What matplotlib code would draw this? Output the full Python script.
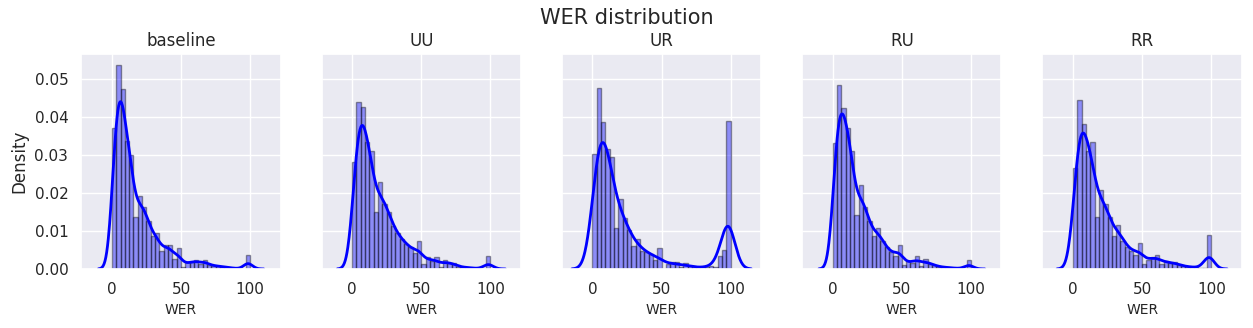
import numpy as np
import matplotlib
matplotlib.use('Agg')
import matplotlib.pyplot as plt
import seaborn as sns

# histogram densities per 3.125-wide WER bin (0..100)
models = ['baseline', 'UU', 'UR', 'RU', 'RR']

baseline = [0.0371, 0.0537, 0.0473, 0.0337, 0.0301, 0.0136, 0.0193, 0.0162,
            0.0127, 0.0086, 0.0095, 0.0046, 0.0062, 0.0062, 0.0027, 0.0054,
            0.0004, 0.0018, 0.0018, 0.0024, 0.0013, 0.0024, 0.0010, 0.0009,
            0.0008, 0.0006, 0.0005, 0.0003, 0.0002, 0.0000, 0.0000, 0.0037]
uu = [0.0283, 0.0440, 0.0427, 0.0335, 0.0311, 0.0149, 0.0228, 0.0172,
      0.0151, 0.0112, 0.0094, 0.0079, 0.0067, 0.0057, 0.0041, 0.0073,
      0.0013, 0.0031, 0.0020, 0.0031, 0.0004, 0.0024, 0.0015, 0.0015,
      0.0006, 0.0005, 0.0004, 0.0003, 0.0002, 0.0000, 0.0000, 0.0033]
ur = [0.0302, 0.0476, 0.0388, 0.0317, 0.0295, 0.0108, 0.0183, 0.0134,
      0.0102, 0.0060, 0.0078, 0.0048, 0.0044, 0.0040, 0.0024, 0.0054,
      0.0000, 0.0013, 0.0018, 0.0018, 0.0004, 0.0015, 0.0008, 0.0004,
      0.0003, 0.0004, 0.0006, 0.0008, 0.0006, 0.0033, 0.0050, 0.0390]
ru = [0.0331, 0.0485, 0.0423, 0.0372, 0.0310, 0.0141, 0.0220, 0.0162,
      0.0127, 0.0087, 0.0108, 0.0074, 0.0057, 0.0044, 0.0035, 0.0064,
      0.0011, 0.0020, 0.0015, 0.0034, 0.0009, 0.0025, 0.0013, 0.0011,
      0.0006, 0.0005, 0.0004, 0.0003, 0.0002, 0.0001, 0.0000, 0.0024]
rr = [0.0265, 0.0446, 0.0383, 0.0310, 0.0335, 0.0138, 0.0208, 0.0171,
      0.0136, 0.0087, 0.0117, 0.0074, 0.0059, 0.0048, 0.0037, 0.0068,
      0.0013, 0.0024, 0.0031, 0.0036, 0.0013, 0.0022, 0.0015, 0.0018,
      0.0010, 0.0008, 0.0006, 0.0005, 0.0004, 0.0003, 0.0002, 0.0089]

series = [baseline, uu, ur, ru, rr]

edges = np.linspace(0, 100, len(baseline) + 1)
centers = (edges[:-1] + edges[1:]) / 2
width = edges[1] - edges[0]
n_samples = 1500  # rough guess of the sample size, only used for the bandwidth


def kde(heights):
    h = np.asarray(heights)
    w = h / h.sum()
    mean = (w * centers).sum()
    std = np.sqrt((w * (centers - mean) ** 2).sum())
    cdf = np.cumsum(h * width) / (h * width).sum()
    q25 = np.interp(0.25, cdf, edges[1:])
    q75 = np.interp(0.75, cdf, edges[1:])
    bw = 1.059 * min(std, (q75 - q25) / 1.349) * n_samples ** -0.2
    xs = np.linspace(edges[0] - 3 * bw, edges[-1] + 3 * bw, 400)
    ys = (w[None, :] * np.exp(-0.5 * ((xs[:, None] - centers[None, :]) / bw) ** 2)).sum(axis=1)
    ys /= bw * np.sqrt(2 * np.pi)
    return xs, ys


sns.set_theme(style='darkgrid')

fig, axes = plt.subplots(1, 5, figsize=(12.53, 3.28), dpi=100, sharey=True)
fig.subplots_adjust(left=0.065, right=0.991, top=0.834, bottom=0.18, wspace=0.206)

for ax, name, vals in zip(axes, models, series):
    ax.hist(centers, bins=edges, weights=vals, color='blue', edgecolor='black',
            alpha=0.4, linewidth=1)
    xs, ys = kde(vals)
    ax.plot(xs, ys, color='blue', linewidth=2)
    ax.set_title(name, fontsize=12)
    ax.set_xlabel('WER', fontsize=10)
    ax.set_xlim(-22, 122)
    ax.set_xticks([0, 50, 100])

axes[0].set_ylim(0, 0.0565)
axes[0].set_yticks([0, 0.01, 0.02, 0.03, 0.04, 0.05])
axes[0].set_ylabel('Density', fontsize=12)
fig.suptitle('WER distribution', fontsize=15, y=0.975)

plt.savefig('out.png', dpi=100)
